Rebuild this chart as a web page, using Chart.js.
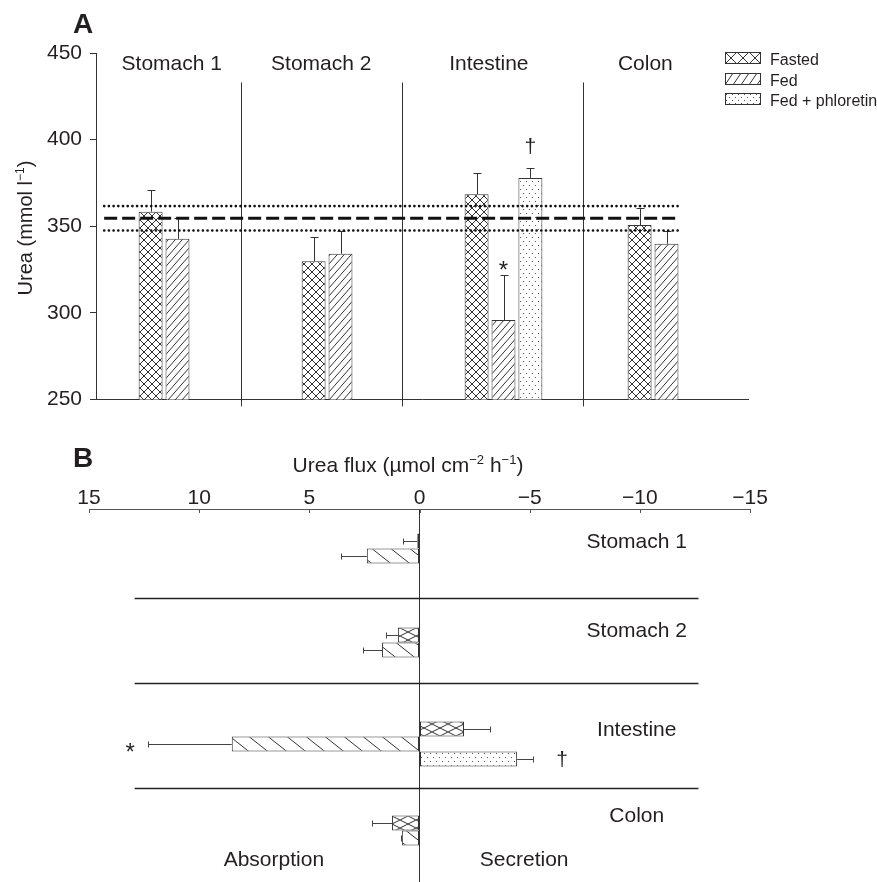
<!DOCTYPE html>
<html>
<head>
<meta charset="utf-8">
<script src="https://cdn.jsdelivr.net/npm/chart.js@4.4.1/dist/chart.umd.min.js"></script>
<style>
html, body { margin: 0; padding: 0; background: #fff; overflow: hidden; }
#wrap { position: relative; width: 877px; height: 882px; overflow: hidden; }
#chartA { position: absolute; left: 0; top: 0; }
#chartB { position: absolute; left: 0; top: 420px; }
</style>
</head>
<body>
<div id="wrap">
  <canvas id="chartA" width="877" height="420"></canvas>
  <canvas id="chartB" width="877" height="470"></canvas>
</div>
<script>
// Datos
const regiones = ['Stomach 1', 'Stomach 2', 'Intestine', 'Colon'];
const series = ['Fasted', 'Fed', 'Fed + phloretin'];

// Panel A: urea (mmol l-1), media y error estándar
const ureaFasted = [358.4, 329.8, 368.5, 350.7];
const ureaFed = [342.7, 334.1, 295.8, 339.9];
const ureaPhloretin = [null, null, 377.9, null];
const ureaFastedErr = [12.4, 13.7, 12.2, 10.0];
const ureaFedErr = [12.3, 13.4, 25.8, 7.6];
const ureaPhloretinErr = [null, null, 5.5, null];
const ureaTicks = [250, 300, 350, 400, 450];
const plasmaUrea = 354.6;           // línea discontinua
const plasmaUreaSE = [347.5, 361.6]; // líneas punteadas

// Panel B: flujo de urea (umol cm-2 h-1), positivo = absorción
const fluxFasted = [0.1, 0.98, -2.02, 1.25];
const fluxFed = [2.39, 1.70, 8.52, 0.80];
const fluxPhloretin = [null, null, -4.43, null];
const fluxFastedErr = [0.65, 0.54, 1.2, 0.91];
const fluxFedErr = [1.18, 0.87, 3.8, 0.05];
const fluxPhloretinErr = [null, null, 0.73, null];
const fluxTicks = [15, 10, 5, 0, -5, -10, -15];

// Posiciones de separadores y etiquetas (en unidades de categoría)
const sepA = [0.387, 1.378, 2.485];
const labelPosA = [-0.035, 0.882, 1.91, 2.87];
const sepB = [0.446, 1.356, 2.468];
const labelPosB = [-0.085, 0.857, 1.915, 2.835];

const FONT = "'Liberation Sans', Arial, sans-serif";
const INK = '#231f20';
Chart.defaults.font.family = FONT;
Chart.defaults.color = INK;

// Patrones de relleno
function makePattern(w, h, draw) {
    const c = document.createElement('canvas');
    c.width = w; c.height = h;
    const g = c.getContext('2d');
    g.fillStyle = '#fff';
    g.fillRect(0, 0, w, h);
    g.strokeStyle = '#333';
    g.fillStyle = '#555';
    g.lineWidth = 1;
    draw(g, w, h);
    return g.createPattern(c, 'repeat');
}
function cruz(g, w, h) {
    g.beginPath();
    for (let k = -1; k <= 1; k++) {
        g.moveTo(k * w, 0); g.lineTo(k * w + w, h);
        g.moveTo(k * w + w, 0); g.lineTo(k * w, h);
    }
    g.stroke();
}
function barraDer(g, w, h) { // "/"
    g.beginPath();
    for (let k = -1; k <= 1; k++) { g.moveTo(k * w, h); g.lineTo(k * w + w, 0); }
    g.stroke();
}
function barraIzq(g, w, h) { // "\"
    g.beginPath();
    for (let k = -1; k <= 1; k++) { g.moveTo(k * w, 0); g.lineTo(k * w + w, h); }
    g.stroke();
}
function puntos(g, w, h) {
    g.fillRect(1, 1, 1, 1);
    g.fillRect(Math.floor(w / 2) + 1, Math.floor(h / 2) + 1, 1, 1);
}

const patA = [makePattern(8, 8, cruz), makePattern(7, 8, barraDer), makePattern(6, 8, puntos)];
const patB = [makePattern(16, 8, cruz), makePattern(19, 15, barraIzq), makePattern(6, 8, puntos)];
const patLegend = [makePattern(12, 12, cruz), makePattern(8, 12, barraDer), makePattern(6, 6, puntos)];

// Utilidades de dibujo
function line(ctx, x1, y1, x2, y2) {
    ctx.beginPath(); ctx.moveTo(x1, y1); ctx.lineTo(x2, y2); ctx.stroke();
}
function textoConSup(ctx, partes, x, y, size) {
    // partes: [texto, esSuperindice]
    let total = 0;
    partes.forEach(p => {
        ctx.font = (p[1] ? Math.round(size * 0.62) : size) + 'px ' + FONT;
        total += ctx.measureText(p[0]).width;
    });
    let cx = x - total / 2;
    ctx.textAlign = 'left';
    partes.forEach(p => {
        ctx.font = (p[1] ? Math.round(size * 0.62) : size) + 'px ' + FONT;
        ctx.fillText(p[0], cx, p[1] ? y - size * 0.38 : y);
        cx += ctx.measureText(p[0]).width;
    });
}

// Panel A
const errA = [ureaFastedErr, ureaFedErr, ureaPhloretinErr];
const decoA = {
    id: 'decoA',
    afterDatasetsDraw(chart) {
        const ctx = chart.ctx, x = chart.scales.x, y = chart.scales.y, area = chart.chartArea;
        ctx.save();
        // barras de error
        ctx.strokeStyle = '#333'; ctx.lineWidth = 1;
        chart.data.datasets.forEach((ds, i) => {
            chart.getDatasetMeta(i).data.forEach((bar, j) => {
                const v = ds.data[j], e = errA[i][j];
                if (v == null || e == null) return;
                const top = Math.round(y.getPixelForValue(v + e)) + 0.5;
                const bx = Math.round(bar.x) + 0.5;
                line(ctx, bx, bar.y, bx, top);
                line(ctx, bx - 4, top, bx + 4, top);
            });
        });
        // separadores
        sepA.forEach(s => {
            const px = Math.round(x.getPixelForValue(s)) + 0.5;
            line(ctx, px, y.getPixelForValue(433), px, area.bottom + 7);
        });
        // urea plasmática
        const x1 = x.getPixelForValue(-0.45), x2 = x.getPixelForValue(3.07);
        ctx.strokeStyle = '#111';
        ctx.lineWidth = 3; ctx.setLineDash([13, 5]);
        line(ctx, x1, y.getPixelForValue(plasmaUrea), x2, y.getPixelForValue(plasmaUrea));
        ctx.lineWidth = 2.6; ctx.lineCap = 'round'; ctx.setLineDash([0.1, 4.6]);
        plasmaUreaSE.forEach(v => line(ctx, x1, y.getPixelForValue(v), x2, y.getPixelForValue(v)));
        ctx.setLineDash([]); ctx.lineCap = 'butt';
        // textos
        ctx.fillStyle = INK;
        ctx.textBaseline = 'alphabetic';
        ctx.textAlign = 'center';
        ctx.font = '21px ' + FONT;
        regiones.forEach((r, i) => ctx.fillText(r, x.getPixelForValue(labelPosA[i]), y.getPixelForValue(439.9)));
        // significancia
        const fed = chart.getDatasetMeta(1).data[2];
        ctx.font = '24px ' + FONT;
        ctx.fillText('*', fed.x, y.getPixelForValue(ureaFed[2] + ureaFedErr[2]) + 3);
        const ph = chart.getDatasetMeta(2).data[2];
        ctx.font = '21px ' + FONT;
        ctx.fillText('\u2020', ph.x, y.getPixelForValue(ureaPhloretin[2] + ureaPhloretinErr[2]) - 15);
        ctx.font = 'bold 28px ' + FONT;
        ctx.textAlign = 'left';
        ctx.fillText('A', 73, 33);
        // título eje y
        ctx.save();
        ctx.translate(32, 228);
        ctx.rotate(-Math.PI / 2);
        textoConSup(ctx, [['Urea (mmol l', false], ['\u22121', true], [')', false]], 0, 0, 20);
        ctx.restore();
        // leyenda
        ctx.font = '16px ' + FONT;
        ctx.textAlign = 'left';
        series.forEach((s, i) => {
            const top = 52 + i * 20.5;
            ctx.save();
            ctx.translate(725, Math.round(top));
            ctx.fillStyle = patLegend[i];
            ctx.fillRect(0, 0, 36, 12);
            ctx.strokeStyle = '#333'; ctx.lineWidth = 1;
            ctx.strokeRect(0.5, 0.5, 35, 11);
            ctx.restore();
            ctx.fillText(s, 770, Math.round(top) + 13);
        });
        ctx.restore();
    }
};

new Chart(document.getElementById('chartA'), {
    type: 'bar',
    data: {
        labels: regiones,
        datasets: [
            { label: series[0], data: ureaFasted, backgroundColor: patA[0] },
            { label: series[1], data: ureaFed, backgroundColor: patA[1] },
            { label: series[2], data: ureaPhloretin, backgroundColor: patA[2] }
        ]
    },
    options: {
        responsive: false,
        animation: false,
        layout: { padding: { left: 0, right: 129, top: 53, bottom: 0 } },
        datasets: { bar: { categoryPercentage: 0.495, barPercentage: 0.89, borderColor: '#333', borderWidth: 1, borderSkipped: false } },
        plugins: { legend: { display: false }, tooltip: { enabled: false } },
        scales: {
            x: {
                grid: { display: true, drawOnChartArea: false, drawTicks: false },
                ticks: { display: false },
                border: { color: '#333', width: 1 },
                afterFit(s) { s.height = 17; }
            },
            y: {
                min: 250, max: 450,
                afterBuildTicks(s) { s.ticks = ureaTicks.map(v => ({ value: v })); },
                afterFit(s) { s.width = 96; },
                ticks: { font: { size: 21 }, color: INK, padding: 8 },
                grid: { drawOnChartArea: false, tickLength: 6, color: '#333' },
                border: { color: '#333', width: 1 }
            }
        }
    },
    plugins: [decoA]
});

// Panel B
const errB = [fluxFastedErr, fluxFedErr, fluxPhloretinErr];
const decoB = {
    id: 'decoB',
    afterDatasetsDraw(chart) {
        const ctx = chart.ctx, x = chart.scales.x, y = chart.scales.y;
        ctx.save();
        // barras de error (hacia afuera de la barra)
        ctx.strokeStyle = '#444'; ctx.lineWidth = 1;
        chart.data.datasets.forEach((ds, i) => {
            chart.getDatasetMeta(i).data.forEach((bar, j) => {
                const v = ds.data[j], e = errB[i][j];
                if (v == null || e == null) return;
                const end = Math.round(x.getPixelForValue(v + Math.sign(v) * e)) + 0.5;
                const by = Math.round(bar.y) + 0.5;
                line(ctx, bar.x, by, end, by);
                line(ctx, end, by - 3, end, by + 3);
            });
        });
        // marcas del eje hacia abajo
        ctx.strokeStyle = '#555';
        fluxTicks.forEach(v => {
            const px = Math.round(x.getPixelForValue(v)) + 0.5;
            line(ctx, px, chart.chartArea.top, px, chart.chartArea.top + 4);
        });
        // separadores
        ctx.strokeStyle = '#222'; ctx.lineWidth = 1.3;
        sepB.forEach(s => {
            const py = Math.round(y.getPixelForValue(s)) + 0.5;
            line(ctx, x.getPixelForValue(12.93), py, x.getPixelForValue(-12.66), py);
        });
        // textos
        ctx.fillStyle = INK;
        ctx.textBaseline = 'alphabetic';
        ctx.textAlign = 'center';
        ctx.font = '21px ' + FONT;
        regiones.forEach((r, i) => ctx.fillText(r, x.getPixelForValue(-9.86), y.getPixelForValue(labelPosB[i])));
        ctx.fillText('Absorption', x.getPixelForValue(6.61), y.getPixelForValue(3.3));
        ctx.fillText('Secretion', x.getPixelForValue(-4.75), y.getPixelForValue(3.3));
        // significancia
        const fed = chart.getDatasetMeta(1).data[2];
        ctx.font = '24px ' + FONT;
        ctx.fillText('*', x.getPixelForValue(fluxFed[2] + fluxFedErr[2]) - 18, fed.y + 16);
        const ph = chart.getDatasetMeta(2).data[2];
        ctx.font = '21px ' + FONT;
        ctx.fillText('\u2020', x.getPixelForValue(fluxPhloretin[2] - fluxPhloretinErr[2]) + 29, ph.y + 7);
        ctx.font = 'bold 28px ' + FONT;
        ctx.textAlign = 'left';
        ctx.fillText('B', 73, 47);
        textoConSup(ctx, [['Urea flux (\u00b5mol cm', false], ['\u22122', true], [' h', false], ['\u22121', true], [')', false]], 408, 52, 21);
        ctx.restore();
    }
};

new Chart(document.getElementById('chartB'), {
    type: 'bar',
    data: {
        labels: regiones,
        datasets: [
            { label: series[0], data: fluxFasted, backgroundColor: patB[0] },
            { label: series[1], data: fluxFed, backgroundColor: patB[1] },
            { label: series[2], data: fluxPhloretin, backgroundColor: patB[2] }
        ]
    },
    options: {
        indexAxis: 'y',
        responsive: false,
        animation: false,
        layout: { padding: { left: 89, right: 127, top: 0, bottom: 5 } },
        datasets: { bar: { categoryPercentage: 0.479, barPercentage: 1.0, borderColor: '#333', borderWidth: 1, borderSkipped: false } },
        plugins: { legend: { display: false }, tooltip: { enabled: false } },
        scales: {
            x: {
                type: 'linear',
                position: 'top',
                reverse: true,
                min: -15, max: 15,
                afterBuildTicks(s) { s.ticks = fluxTicks.map(v => ({ value: v })); },
                afterFit(s) { s.height = 89; },
                ticks: {
                    font: { size: 21 }, color: INK, padding: -2, maxRotation: 0, autoSkip: false,
                    callback: v => v < 0 ? '\u2212' + Math.abs(v) : String(v)
                },
                grid: {
                    drawOnChartArea: true,
                    color: c => (c.tick && c.tick.value === 0) ? '#333' : 'rgba(0,0,0,0)',
                    drawTicks: false,
                    tickLength: 4
                },
                border: { color: '#555', width: 1 }
            },
            y: { display: false }
        }
    },
    plugins: [decoB]
});
</script>
</body>
</html>
